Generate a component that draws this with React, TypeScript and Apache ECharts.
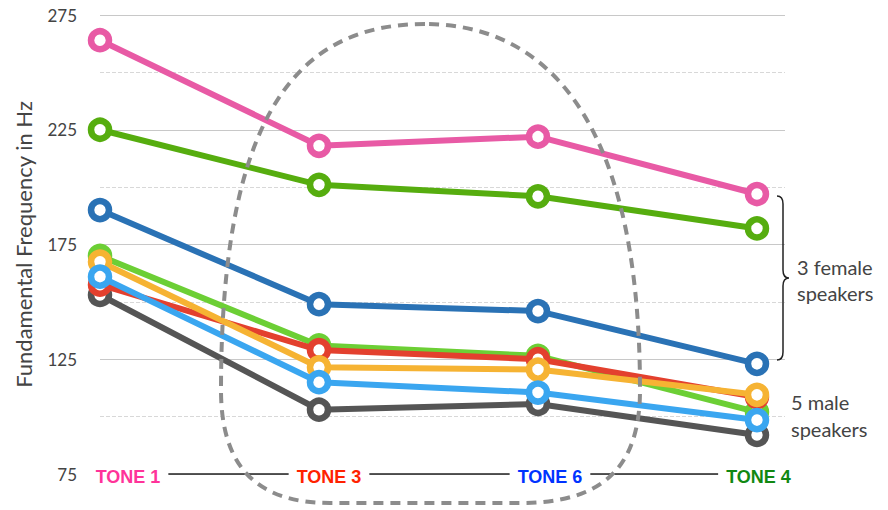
import React, { useEffect, useRef } from "react";
import * as echarts from "echarts";

// ---- data ----
const TONES = ["TONE 1", "TONE 3", "TONE 6", "TONE 4"];
const Y_TICKS = [75, 125, 175, 225, 275];
const SERIES_NAMES = [
  "Female A",
  "Female B",
  "Female C",
  "Male A",
  "Male B",
  "Male C",
  "Male D",
  "Male E",
];
const femaleA = [264, 218, 222, 197];
const femaleB = [225, 201, 196, 182];
const femaleC = [190, 149, 146, 123];
const maleA = [153, 103, 105.5, 92];
const maleB = [170, 131, 126.5, 102];
const maleC = [157.5, 129, 125, 108.5];
const maleD = [167.5, 121.5, 120.5, 109.5];
const maleE = [161, 115, 110.5, 98.5];
const SERIES_VALUES = [femaleA, femaleB, femaleC, maleA, maleB, maleC, maleD, maleE];

// ---- styles ----
const SERIES_COLORS = [
  "#e85aa5",
  "#56ad0f",
  "#2a72b5",
  "#555555",
  "#6ccf35",
  "#e3402e",
  "#f6b333",
  "#3aa6f0",
];
const TONE_COLORS = ["#ff3399", "#ff2200", "#0033ff", "#118811"];
const TONE_SHIFT = [28, 10, 12, 1.5];

const EGG =
  "M 425 24 C 300 24 221 110 221 390 C 221 470 260 503 330 503 L 520 503 C 600 503 640 470 640 390 C 640 110 540 24 425 24 Z";
const BRACE =
  "M 777 196 Q 783 196 783 204 L 783 270 Q 783 278 789 278 Q 783 278 783 286 L 783 352 Q 783 360 777 360";

let registered = false;
function registerShapes() {
  if (registered) return;
  registered = true;
  echarts.graphic.registerShape("egg", echarts.graphic.extendPath(EGG, {}));
  echarts.graphic.registerShape("brace", echarts.graphic.extendPath(BRACE, {}));
}

export default function App() {
  const ref = useRef<HTMLDivElement>(null);
  useEffect(() => {
    if (!ref.current) return;
    registerShapes();
    const chart = echarts.init(ref.current, undefined, { renderer: "svg" });
    const rich: Record<string, any> = {};
    TONES.forEach((t, i) => {
      rich["s" + i] = { width: TONE_SHIFT[i] * 2, height: 10 };
      rich["t" + i] = {
        color: TONE_COLORS[i],
        fontWeight: "bold",
        fontSize: 18,
        fontFamily: "Liberation Sans, Arial, sans-serif",
        backgroundColor: "#ffffff",
        padding: [2, 8, 2, 8],
      };
    });
    chart.setOption({
      animation: false,
      backgroundColor: "#ffffff",
      grid: { left: 100, right: 103, top: 15, bottom: 36, outerBoundsMode: "none" },
      xAxis: {
        type: "value",
        min: 0,
        max: 3.128,
        interval: 1,
        z: 5,
        splitLine: { show: false },
        axisTick: { show: false },
        axisLine: { show: true, lineStyle: { color: "#222", width: 1.5 } },
        axisLabel: {
          margin: 3,
          verticalAlign: "middle",
          showMaxLabel: false,
          showMinLabel: true,
          formatter: (v: number) => {
            const i = Math.round(v);
            if (Math.abs(v - i) > 1e-6 || i < 0 || i >= TONES.length) return "";
            return `{s${i}| }{t${i}|${TONES[i]}}`;
          },
          rich,
        },
      },
      yAxis: {
        type: "value",
        min: Y_TICKS[0],
        max: Y_TICKS[Y_TICKS.length - 1],
        interval: 50,
        name: "Fundamental Frequency in Hz",
        nameLocation: "middle",
        nameRotate: 90,
        nameGap: 66,
        nameTextStyle: { fontFamily: "Lato, sans-serif", fontSize: 22, color: "#444" },
        axisLine: { show: false },
        axisTick: { show: false },
        axisLabel: {
          margin: 23,
          fontFamily: "Lato, sans-serif",
          fontSize: 17,
          color: "#444",
        },
        splitLine: { show: true, lineStyle: { color: "#c8c8c8", width: 1 } },
        minorTick: { show: false, splitNumber: 2 },
        minorSplitLine: { show: true, lineStyle: { color: "#d8d8d8", type: "dashed", width: 1 } },
      },
      series: SERIES_VALUES.map((vals, k) => ({
        name: SERIES_NAMES[k],
        type: "line",
        data: vals.map((v, i) => [i, v]),
        color: SERIES_COLORS[k],
        lineStyle: { color: SERIES_COLORS[k], width: 6 },
        symbol: "circle",
        symbolSize: 18,
        itemStyle: { color: "#ffffff", borderColor: SERIES_COLORS[k], borderWidth: 6.5 },
        z: 2 + k * 0.01,
      })),
      graphic: [
        {
          type: "egg",
          x: 0,
          y: 0,
          z: 20,
          silent: true,
          style: { fill: "none", stroke: "#8c8c8c", lineWidth: 4, lineDash: [10, 7] },
        },
        {
          type: "brace",
          x: 0,
          y: 0,
          z: 20,
          silent: true,
          style: { fill: "none", stroke: "#222", lineWidth: 1.5 },
        },
        {
          type: "text",
          x: 797,
          y: 280,
          z: 20,
          style: {
            text: "3 female\nspeakers",
            fill: "#444",
            fontFamily: "Lato, sans-serif",
            fontSize: 20,
            lineHeight: 26,
            verticalAlign: "middle",
          },
        },
        {
          type: "text",
          x: 791,
          y: 415,
          z: 20,
          style: {
            text: "5 male\nspeakers",
            fill: "#444",
            fontFamily: "Lato, sans-serif",
            fontSize: 20,
            lineHeight: 27,
            verticalAlign: "middle",
          },
        },
      ],
    });
    return () => chart.dispose();
  }, []);
  return (
    <div
      ref={ref}
      style={{ position: "fixed", left: 0, top: 0, width: 888, height: 510 }}
    />
  );
}
